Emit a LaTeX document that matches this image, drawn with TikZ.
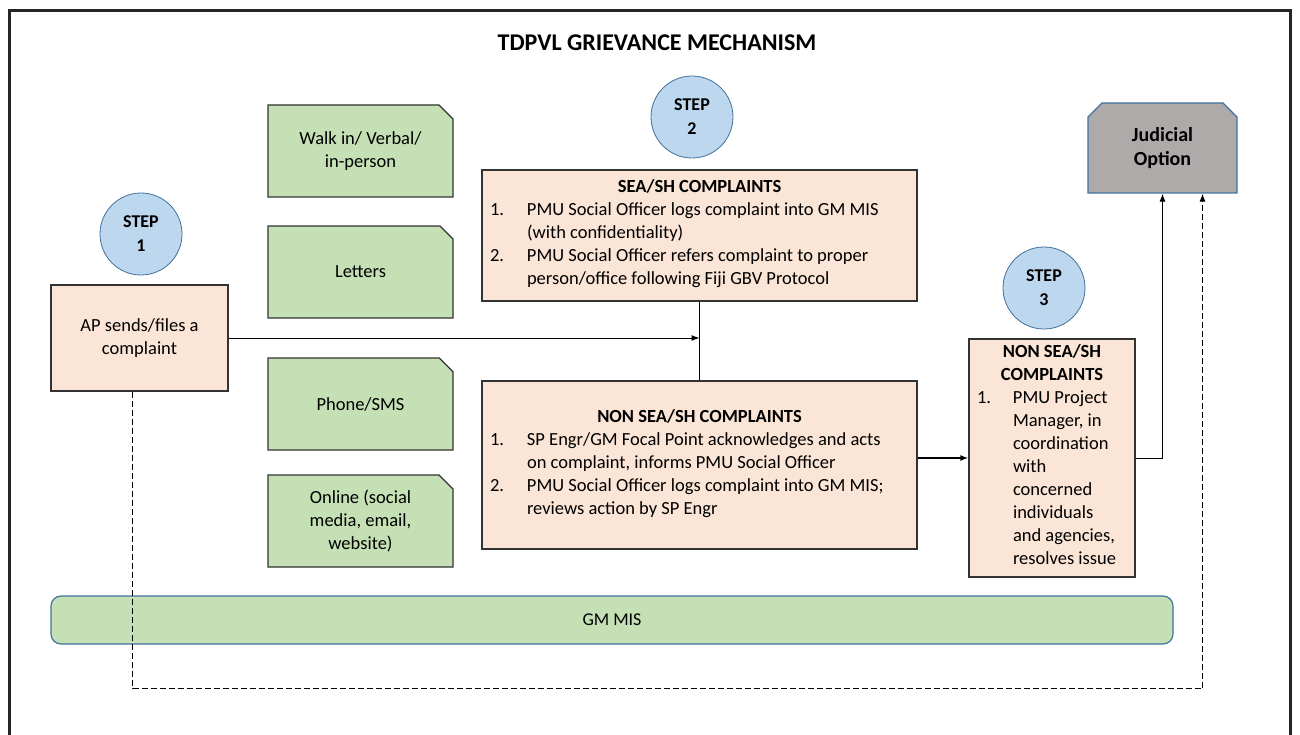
\documentclass[tikz,border=0pt]{standalone}
\usepackage{fontspec}
\setmainfont{Carlito}
\usetikzlibrary{arrows.meta,shapes.misc}

\definecolor{peach}{HTML}{FBE5D6}
\definecolor{leaf}{HTML}{C5E0B4}
\definecolor{sky}{HTML}{BDD7EE}
\definecolor{skyline}{HTML}{41719C}
\definecolor{stone}{HTML}{AEAAAA}

\newcommand{\bodyfont}{\fontsize{18.5}{23}\selectfont}

\tikzset{
  stepball/.style={circle,draw=skyline,fill=sky,line width=0.8pt,minimum size=82pt,
    inner sep=0pt,align=center,font=\fontsize{18}{24}\selectfont\bfseries},
  peachbox/.style={draw=black!80,fill=peach,line width=1.2pt,inner sep=0pt,font=\bodyfont},
  channel/.style={chamfered rectangle,chamfered rectangle corners=north east,
    chamfered rectangle xsep=7pt,chamfered rectangle ysep=7pt,
    draw=black!80,fill=leaf,line width=1.2pt,minimum width=185pt,minimum height=92pt,
    inner sep=0pt,align=center,font=\bodyfont},
  link/.style={line width=1pt,-{Latex[length=8pt,width=6pt]}},
}

\begin{document}
\begin{tikzpicture}[x=1pt,y=-1pt]

    \useasboundingbox (0,0) rectangle (1300,735);
    \draw[line width=2.5pt,black!85] (9.5,10.5) rectangle (1290.5,760);

    \node[font=\fontsize{24}{28}\selectfont\bfseries] (title) at (657,43) {TDPVL GRIEVANCE MECHANISM};

    % steps
    \node[stepball] (step1) at (141,234) {STEP\\1};
    \node[stepball] (step2) at (692,117) {STEP\\2};
    \node[stepball] (step3) at (1044,288) {STEP\\3};

    \node[peachbox,minimum width=177pt,minimum height=106pt,align=center] (ap) at (139.5,338) {AP sends/files a\\complaint};

    % channels
    \node[channel] (walkin) at (360.5,151) {Walk in/ Verbal/\\in-person};
    \node[channel] (letters) at (360.5,272) {Letters};
    \node[channel] (phone) at (360.5,404) {Phone/SMS};
    \node[channel] (online) at (360.5,521) {Online (social\\media, email,\\website)};

    \node[peachbox,minimum width=435pt,minimum height=131pt,align=center] (sea) at (699.5,235.5) {%
        \textbf{SEA/SH COMPLAINTS}\\
        \begin{tabular}[t]{@{}p{37pt}@{}p{382pt}@{}}
        1. & PMU Social Officer logs complaint into GM MIS\\
           & (with confidentiality)\\
        2. & PMU Social Officer refers complaint to proper\\
           & person/office following Fiji GBV Protocol
        \end{tabular}};

    \node[peachbox,minimum width=435pt,minimum height=168pt,align=center] (nonsea) at (699.5,465) {%
        \textbf{NON SEA/SH COMPLAINTS}\\
        \begin{tabular}[t]{@{}p{37pt}@{}p{382pt}@{}}
        1. & SP Engr/GM Focal Point acknowledges and acts\\
           & on complaint, informs PMU Social Officer\\
        2. & PMU Social Officer logs complaint into GM MIS;\\
           & reviews action by SP Engr
        \end{tabular}};

    \node[peachbox,minimum width=166pt,minimum height=238pt,align=center] (manager) at (1052,458) {%
        \textbf{NON SEA/SH}\\
        \textbf{COMPLAINTS}\\
        \begin{tabular}[t]{@{}p{36pt}@{}p{114pt}@{}}
        1. & PMU Project\\
           & Manager, in\\
           & coordination\\
           & with\\
           & concerned\\
           & individuals\\
           & and agencies,\\
           & resolves issue
        \end{tabular}};

    \node[chamfered rectangle,chamfered rectangle corners={north west,north east},
        chamfered rectangle xsep=7pt,chamfered rectangle ysep=7pt,
        draw=skyline,fill=stone,line width=1.2pt,minimum width=149pt,minimum height=90pt,
        inner sep=0pt,align=center,font=\fontsize{20}{24}\selectfont\bfseries] (judicial) at (1162.5,148) {Judicial\\Option};

    \node[draw=skyline,fill=leaf,line width=1.2pt,rounded corners=10pt,minimum width=1122pt,
        minimum height=48pt,inner sep=0pt,font=\fontsize{18}{20}\selectfont] (mis) at (612,620) {GM MIS};

    % connectors
    \draw[line width=1pt] (sea.south) -- (nonsea.north);
    \draw[link] (ap.east) -- (ap.east -| sea.south);
    \draw[link,line width=1.6pt] (manager.west -| nonsea.east) -- (manager.west);
    \draw[link] (manager.east) -| (judicial.south);
    \draw[link,dash pattern=on 6pt off 3pt] ([xshift=-7pt]ap.south) -- ++(0,297) -| ([xshift=40pt]judicial.south);

\end{tikzpicture}
\end{document}
